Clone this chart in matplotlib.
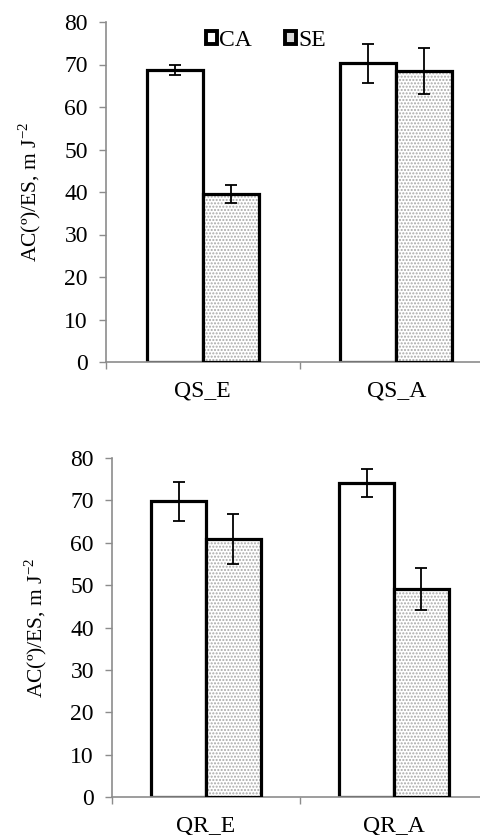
import matplotlib
matplotlib.use("Agg")
import matplotlib.pyplot as plt
import numpy as np
from matplotlib.patches import Patch

# --- Dados ---
grupos_topo = ['QS_E', 'QS_A']
ca_topo = [68.7, 70.3]
ca_topo_err = [1.2, 4.6]
se_topo = [39.5, 68.5]
se_topo_err = [2.2, 5.5]

grupos_baixo = ['QR_E', 'QR_A']
ca_baixo = [69.8, 74.2]
ca_baixo_err = [4.6, 3.3]
se_baixo = [60.8, 49.1]
se_baixo_err = [5.9, 4.9]

y_ticks = [0, 10, 20, 30, 40, 50, 60, 70, 80]
y_label = 'AC(º)/ES, m J$^{-2}$'

plt.rcParams['font.family'] = ['Liberation Serif', 'DejaVu Serif']
plt.rcParams['mathtext.fontset'] = 'custom'
plt.rcParams['mathtext.rm'] = 'Liberation Serif'
plt.rcParams['font.size'] = 17

W, H = 481, 835
fig = plt.figure(figsize=(W / 100, H / 100), dpi=100)

cinza = '#8c8c8c'
width = 0.29


def painel(ax, grupos, ca, ca_err, se, se_err):
    x = np.arange(len(grupos))
    ax.bar(x - width / 2, ca, width, color='white', edgecolor='black',
           linewidth=2.3, zorder=2)
    # preenchimento pontilhado
    ax.bar(x + width / 2, se, width, color='white', edgecolor='#a8a8a8',
           hatch='.....', linewidth=0, zorder=2)
    ax.bar(x + width / 2, se, width, fill=False, edgecolor='black',
           linewidth=2.3, zorder=3)
    ax.errorbar(x - width / 2, ca, yerr=ca_err, fmt='none', ecolor='black',
                elinewidth=1.3, capsize=4, capthick=1.3, zorder=4)
    ax.errorbar(x + width / 2, se, yerr=se_err, fmt='none', ecolor='black',
                elinewidth=1.3, capsize=4, capthick=1.3, zorder=4)

    ax.set_xlim(-0.5, len(grupos) - 0.5)
    ax.set_ylim(0, 80)
    ax.set_yticks(y_ticks)
    ax.set_xticks(x)
    ax.set_xticklabels(grupos)
    ax.set_xticks(np.arange(len(grupos) + 1) - 0.5, minor=True)
    ax.tick_params(axis='x', which='major', length=0, pad=13)
    ax.tick_params(axis='x', which='minor', length=5, color=cinza, width=1)
    ax.tick_params(axis='y', length=5, color=cinza, width=1, pad=8)
    for s in ['top', 'right']:
        ax.spines[s].set_visible(False)
    for s in ['left', 'bottom']:
        ax.spines[s].set_color(cinza)
        ax.spines[s].set_linewidth(1.2)
    ax.set_ylabel(y_label, fontsize=15.5, labelpad=15)


# eixos em pixels: esquerda, topo(80), direita, base(0)
ax1 = fig.add_axes([106 / W, 1 - 362 / H, (493 - 106) / W, (362 - 22) / H])
painel(ax1, grupos_topo, ca_topo, ca_topo_err, se_topo, se_topo_err)

ax2 = fig.add_axes([112 / W, 1 - 797 / H, (488 - 112) / W, (797 - 458) / H])
painel(ax2, grupos_baixo, ca_baixo, ca_baixo_err, se_baixo, se_baixo_err)

handles = [Patch(facecolor='white', edgecolor='black', linewidth=2.8),
           Patch(facecolor='#d8d8d8', edgecolor='black', linewidth=2.8)]
ax1.legend(handles, ['CA', 'SE'], ncol=2, frameon=False, loc='center',
           bbox_to_anchor=(0.413, 0.945), handlelength=0.47, handleheight=0.47,
           handletextpad=0.08, columnspacing=1.4, borderaxespad=0)

fig.savefig('out.png', dpi=100)
